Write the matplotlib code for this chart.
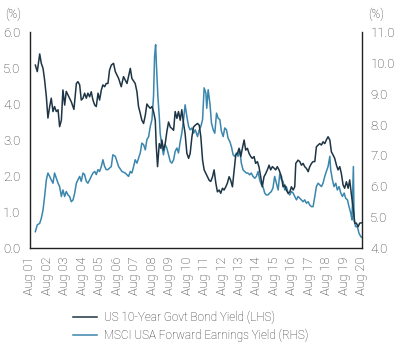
import matplotlib
matplotlib.use("Agg")
import matplotlib.pyplot as plt
from matplotlib.ticker import FormatStrFormatter

# ---- data (decimal years) ----
bond_t = [2001.89, 2002.00, 2002.14, 2002.23, 2002.33, 2002.42, 2002.52, 2002.61, 2002.71, 2002.80,
          2002.90, 2002.99, 2003.09, 2003.19, 2003.28, 2003.38, 2003.47, 2003.57, 2003.66, 2003.76,
          2003.85, 2003.95, 2004.10, 2004.24, 2004.33, 2004.43, 2004.52, 2004.62, 2004.71, 2004.81,
          2004.90, 2005.00, 2005.09, 2005.19, 2005.29, 2005.38, 2005.48, 2005.57, 2005.67, 2005.76,
          2005.86, 2005.95, 2006.05, 2006.14, 2006.24, 2006.37, 2006.47, 2006.66, 2006.81, 2006.94,
          2007.14, 2007.33, 2007.42, 2007.61, 2007.71, 2007.80, 2007.90, 2007.99, 2008.09, 2008.19,
          2008.28, 2008.38, 2008.47, 2008.57, 2008.66, 2008.76, 2008.81, 2008.89, 2008.99, 2009.08,
          2009.14, 2009.23, 2009.33, 2009.42, 2009.52, 2009.62, 2009.71, 2009.81, 2009.90, 2010.00,
          2010.09, 2010.19, 2010.28, 2010.38, 2010.47, 2010.57, 2010.67, 2010.76, 2010.86, 2010.95,
          2011.05, 2011.18, 2011.28, 2011.37, 2011.47, 2011.56, 2011.66, 2011.75, 2011.85, 2011.94,
          2012.04, 2012.13, 2012.23, 2012.32, 2012.42, 2012.51, 2012.61, 2012.70, 2012.80, 2012.89,
          2012.99, 2013.08, 2013.18, 2013.28, 2013.37, 2013.47, 2013.56, 2013.66, 2013.75, 2013.85,
          2013.94, 2014.04, 2014.13, 2014.23, 2014.32, 2014.42, 2014.51, 2014.61, 2014.70, 2014.80,
          2014.89, 2014.99, 2015.09, 2015.18, 2015.28, 2015.37, 2015.47, 2015.56, 2015.66, 2015.75,
          2015.85, 2015.99, 2016.08, 2016.18, 2016.27, 2016.37, 2016.47, 2016.56, 2016.66, 2016.75,
          2016.81, 2016.94, 2017.04, 2017.13, 2017.23, 2017.32, 2017.42, 2017.52, 2017.61, 2017.71,
          2017.80, 2017.90, 2017.99, 2018.09, 2018.18, 2018.28, 2018.37, 2018.47, 2018.56, 2018.66,
          2018.76, 2018.85, 2018.95, 2019.04, 2019.14, 2019.23, 2019.33, 2019.42, 2019.52, 2019.61,
          2019.71, 2019.81, 2019.90, 2020.00, 2020.09, 2020.19, 2020.28, 2020.38, 2020.47, 2020.58]
bond_v = [5.08, 4.90, 5.39, 5.13, 4.99, 4.67, 4.20, 3.61, 3.93, 4.16,
          3.79, 3.93, 3.79, 3.84, 3.37, 3.55, 4.39, 3.97, 4.35, 4.25,
          4.16, 4.06, 3.85, 4.57, 4.62, 4.53, 4.11, 4.16, 4.30, 4.16,
          4.30, 4.20, 4.34, 4.11, 3.97, 3.93, 4.30, 4.11, 4.39, 4.53,
          4.48, 4.57, 4.57, 4.94, 5.08, 5.13, 4.90, 4.71, 4.48, 4.76,
          4.57, 4.99, 4.71, 4.57, 4.34, 3.93, 3.74, 3.55, 3.46, 3.69,
          4.00, 3.93, 3.88, 3.93, 3.79, 3.55, 2.90, 2.26, 2.90, 2.77,
          3.00, 2.72, 2.90, 3.22, 3.50, 3.36, 3.32, 3.27, 3.79, 3.60,
          3.79, 3.55, 3.84, 3.46, 3.18, 2.63, 2.49, 2.63, 3.09, 3.36,
          3.41, 3.46, 3.41, 3.09, 2.44, 2.17, 2.07, 1.98, 1.88, 1.85,
          1.98, 2.17, 1.80, 1.56, 1.61, 1.52, 1.66, 1.61, 1.70, 1.80,
          1.98, 1.88, 1.70, 2.17, 2.58, 2.63, 2.77, 2.54, 2.77, 3.00,
          2.72, 2.77, 2.63, 2.54, 2.49, 2.54, 2.35, 2.40, 2.26, 1.98,
          1.70, 1.98, 2.07, 2.17, 2.30, 2.17, 2.26, 2.22, 2.17, 2.26,
          2.17, 1.98, 1.70, 1.75, 1.61, 1.52, 1.56, 1.70, 1.61, 1.70,
          2.35, 2.44, 2.40, 2.30, 2.35, 2.26, 2.21, 2.12, 2.26, 2.35,
          2.40, 2.40, 2.81, 2.86, 2.90, 2.86, 2.95, 2.90, 3.00, 3.09,
          3.00, 2.67, 2.58, 2.49, 2.30, 2.17, 2.26, 2.07, 1.75, 1.66,
          1.84, 1.66, 1.89, 1.47, 1.15, 0.69, 0.69, 0.59, 0.69, 0.70]

msci_t = [2001.89, 2002.00, 2002.14, 2002.23, 2002.33, 2002.42, 2002.52, 2002.61, 2002.71, 2002.80,
          2002.90, 2002.99, 2003.09, 2003.19, 2003.28, 2003.38, 2003.47, 2003.57, 2003.66, 2003.76,
          2003.85, 2003.95, 2004.05, 2004.14, 2004.24, 2004.33, 2004.43, 2004.52, 2004.62, 2004.71,
          2004.81, 2004.90, 2005.00, 2005.09, 2005.19, 2005.29, 2005.38, 2005.48, 2005.57, 2005.67,
          2005.76, 2005.86, 2005.95, 2006.05, 2006.14, 2006.24, 2006.33, 2006.47, 2006.66, 2006.85,
          2007.04, 2007.23, 2007.33, 2007.42, 2007.52, 2007.61, 2007.71, 2007.80, 2007.90, 2007.99,
          2008.09, 2008.19, 2008.28, 2008.38, 2008.47, 2008.57, 2008.66, 2008.72, 2008.78, 2008.83,
          2008.91, 2008.99, 2009.04, 2009.14, 2009.23, 2009.33, 2009.42, 2009.52, 2009.62, 2009.71,
          2009.81, 2009.90, 2010.00, 2010.09, 2010.19, 2010.28, 2010.38, 2010.47, 2010.57, 2010.67,
          2010.76, 2010.86, 2010.95, 2011.05, 2011.18, 2011.28, 2011.37, 2011.47, 2011.56, 2011.66,
          2011.71, 2011.79, 2011.89, 2011.98, 2012.08, 2012.17, 2012.27, 2012.36, 2012.46, 2012.55,
          2012.65, 2012.74, 2012.84, 2012.93, 2013.03, 2013.12, 2013.22, 2013.31, 2013.41, 2013.50,
          2013.60, 2013.69, 2013.79, 2013.88, 2013.98, 2014.07, 2014.17, 2014.26, 2014.36, 2014.46,
          2014.55, 2014.65, 2014.74, 2014.84, 2014.93, 2015.03, 2015.12, 2015.22, 2015.31, 2015.41,
          2015.50, 2015.60, 2015.70, 2015.80, 2015.89, 2015.99, 2016.08, 2016.18, 2016.27, 2016.37,
          2016.47, 2016.56, 2016.66, 2016.75, 2016.85, 2016.94, 2017.04, 2017.13, 2017.23, 2017.32,
          2017.42, 2017.52, 2017.61, 2017.71, 2017.80, 2017.90, 2017.99, 2018.09, 2018.18, 2018.28,
          2018.37, 2018.47, 2018.56, 2018.66, 2018.76, 2018.81, 2018.91, 2019.00, 2019.10, 2019.19,
          2019.29, 2019.39, 2019.48, 2019.58, 2019.67, 2019.77, 2019.86, 2019.96, 2020.03, 2020.11,
          2020.15, 2020.24, 2020.34, 2020.43, 2020.53, 2020.58]
msci_v = [4.53, 4.75, 4.80, 4.96, 5.23, 5.67, 6.21, 6.43, 6.32, 6.21,
          6.10, 6.43, 6.27, 6.10, 5.99, 5.67, 5.88, 5.67, 5.83, 5.72,
          5.67, 5.50, 5.56, 5.77, 6.10, 6.21, 6.32, 6.16, 6.43, 6.38,
          6.16, 6.10, 6.21, 6.32, 6.43, 6.48, 6.38, 6.54, 6.48, 6.64,
          6.86, 6.64, 6.54, 6.54, 6.59, 6.64, 7.02, 6.97, 6.64, 6.48,
          6.43, 6.32, 6.48, 6.43, 6.64, 6.86, 6.75, 6.91, 7.08, 7.40,
          7.35, 7.18, 7.51, 7.61, 7.93, 8.16, 8.91, 10.21, 10.59, 9.89,
          8.91, 8.26, 7.72, 7.29, 7.02, 7.35, 7.24, 7.02, 6.80, 6.75,
          6.86, 7.13, 7.24, 7.08, 7.45, 7.72, 8.16, 8.64, 8.26, 7.94,
          7.83, 7.89, 7.72, 7.83, 7.61, 7.83, 7.94, 8.16, 9.19, 9.02,
          8.53, 9.13, 8.69, 8.05, 7.83, 7.72, 8.37, 8.21, 8.16, 7.78,
          7.61, 7.89, 7.83, 7.56, 7.45, 7.29, 7.02, 6.97, 7.08, 6.97,
          7.18, 6.75, 6.53, 6.48, 6.43, 6.43, 6.37, 6.43, 6.32, 6.26,
          6.32, 6.48, 6.21, 6.05, 5.99, 5.78, 5.72, 5.72, 5.78, 5.83,
          5.94, 6.32, 6.10, 5.88, 6.40, 6.21, 6.16, 5.88, 5.99, 5.78,
          5.72, 5.83, 5.78, 5.67, 5.56, 5.67, 5.61, 5.56, 5.50, 5.56,
          5.45, 5.50, 5.39, 5.34, 5.34, 5.67, 5.99, 6.10, 6.05, 5.99,
          6.10, 6.32, 6.48, 6.64, 6.97, 6.53, 6.21, 5.99, 6.10, 5.88,
          5.99, 5.78, 5.67, 5.78, 5.61, 5.56, 5.34, 5.13, 4.91, 6.64,
          4.91, 4.69, 4.69, 4.48, 4.37, 4.35]

tick_years = list(range(2001, 2021))
tick_labels = ["Aug %02d" % (y % 100) for y in tick_years]
left_ticks = [0, 1, 2, 3, 4, 5, 6]
right_ticks = [4, 5, 6, 7, 8, 9, 10, 11]

bond_label = "US 10-Year Govt Bond Yield (LHS)"
msci_label = "MSCI USA Forward Earnings Yield (RHS)"

# ---- style ----
plt.rcParams['font.family'] = ['Roboto', 'DejaVu Sans']
plt.rcParams['font.weight'] = 'light'
DARK = "#1e3545"
TEAL = "#3a86ad"
TXT = "#2c2c2c"
FS = 8.5

fig = plt.figure(figsize=(3.95, 3.43), dpi=100)
ax = fig.add_axes([30/395, 1 - 248/343, (362 - 30)/395, (248 - 32)/343])
ax2 = ax.twinx()

l2, = ax2.plot(msci_t, msci_v, color=TEAL, lw=1.1, label=msci_label)
l1, = ax.plot(bond_t, bond_v, color=DARK, lw=1.1, label=bond_label)
ax.set_zorder(ax2.get_zorder() + 1)
ax.patch.set_visible(False)

xt = [y + 7/12 for y in tick_years]
ax.set_xlim(xt[0], xt[-1] + 0.02)
ax.set_xticks(xt)
ax.set_xticklabels(tick_labels, rotation=90, color=TXT)

ax.set_ylim(0, 6)
ax.set_yticks(left_ticks)
ax.yaxis.set_major_formatter(FormatStrFormatter("%.1f"))
ax2.set_ylim(4, 11)
ax2.set_yticks(right_ticks)
ax2.yaxis.set_major_formatter(FormatStrFormatter("%.1f"))

ax.tick_params(axis='both', length=0, labelsize=FS + 1, labelcolor=TXT)
ax.tick_params(axis='x', pad=6, labelsize=FS + 0.7)
ax.tick_params(axis='y', pad=7)
ax2.tick_params(axis='y', length=0, labelsize=FS + 1, labelcolor=TXT, pad=6)

for a in (ax, ax2):
    a.spines['top'].set_visible(False)
    for s in a.spines.values():
        s.set_color("#222222")
        s.set_linewidth(1.0)
ax.spines['right'].set_visible(False)
ax2.spines['left'].set_visible(False)
ax2.spines['bottom'].set_visible(False)

fig.text(5/395, 1 - 14/343, "(%)", fontsize=FS, color=TXT, va='center', ha='left')
fig.text(368/395, 1 - 14/343, "(%)", fontsize=FS, color=TXT, va='center', ha='left')

fig.legend(handles=[l1, l2], loc='upper left', bbox_to_anchor=(73/395, 1 - 311/343),
           frameon=False, fontsize=FS, borderpad=0, handlelength=2.0,
           handletextpad=0.6, labelspacing=0.4, borderaxespad=0,
           labelcolor=TXT)

fig.savefig("out.png", dpi=100)
